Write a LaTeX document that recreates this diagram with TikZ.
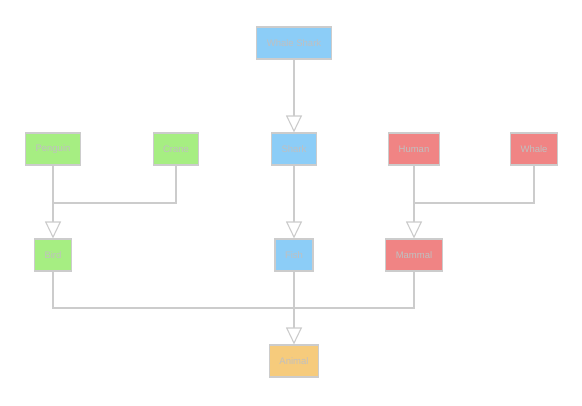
\documentclass[tikz,border=0pt]{standalone}
\usepackage{tikz}
\usetikzlibrary{positioning,arrows.meta,patterns}
\usepackage{fontspec}
\setmainfont{Liberation Sans}
\definecolor{edgegray}{HTML}{CCCCCC}
\definecolor{textgray}{HTML}{C0C0C0}
\definecolor{birdgreen}{HTML}{A6EE82}
\definecolor{fishblue}{HTML}{8CCDF7}
\definecolor{mamred}{HTML}{F08484}
\definecolor{animorange}{HTML}{F6CB7C}

\begin{document}
\begin{tikzpicture}[x=1pt, y=-1pt, line width=1.1pt, draw=edgegray,
			every node/.style={draw=edgegray, minimum height=32pt, inner xsep=10pt,
				font=\fontsize{9.5}{11}\selectfont, text=textgray},
			bird/.style={fill=birdgreen},
			fish/.style={fill=fishblue},
			mam/.style={fill=mamred},
			anim/.style={fill=animorange},
			isa/.style={-{Triangle[open, fill=white, length=17pt, width=16pt]}}]
			\useasboundingbox (0,0) rectangle (582,405);
			
			\node[fish] (whaleshark) at (294,43) {Whale Shark};
			\node[bird] (penguin) at (53,149) {Penguin};
			\node[bird] (crane) at (176,149) {Crane};
			\node[fish] (shark) at (294,149) {Shark};
			\node[mam] (human) at (414,149) {Human};
			\node[mam] (whale) at (534,149) {Whale};
			\node[bird] (bird) at (53,255) {Bird};
			\node[fish] (fish) at (294,255) {Fish};
			\node[mam] (mammal) at (414,255) {Mammal};
			\node[anim] (animal) at (294,361) {Animal};
			
			\coordinate (jbird) at (53,203);
			\coordinate (jmam) at (414,203);
			\coordinate (janim) at (294,308);
			
			\draw[isa] (whaleshark) -- (shark);
			\draw[isa] (shark) -- (fish);
			\draw (penguin) -- (jbird);
			\draw (crane) |- (jbird);
			\draw[isa] (jbird) -- (bird);
			\draw (human) -- (jmam);
			\draw (whale) |- (jmam);
			\draw[isa] (jmam) -- (mammal);
			\draw (bird) |- (janim);
			\draw (mammal) |- (janim);
			\draw (fish) -- (janim);
			\draw[isa] (janim) -- (animal);
\end{tikzpicture}
\end{document}
